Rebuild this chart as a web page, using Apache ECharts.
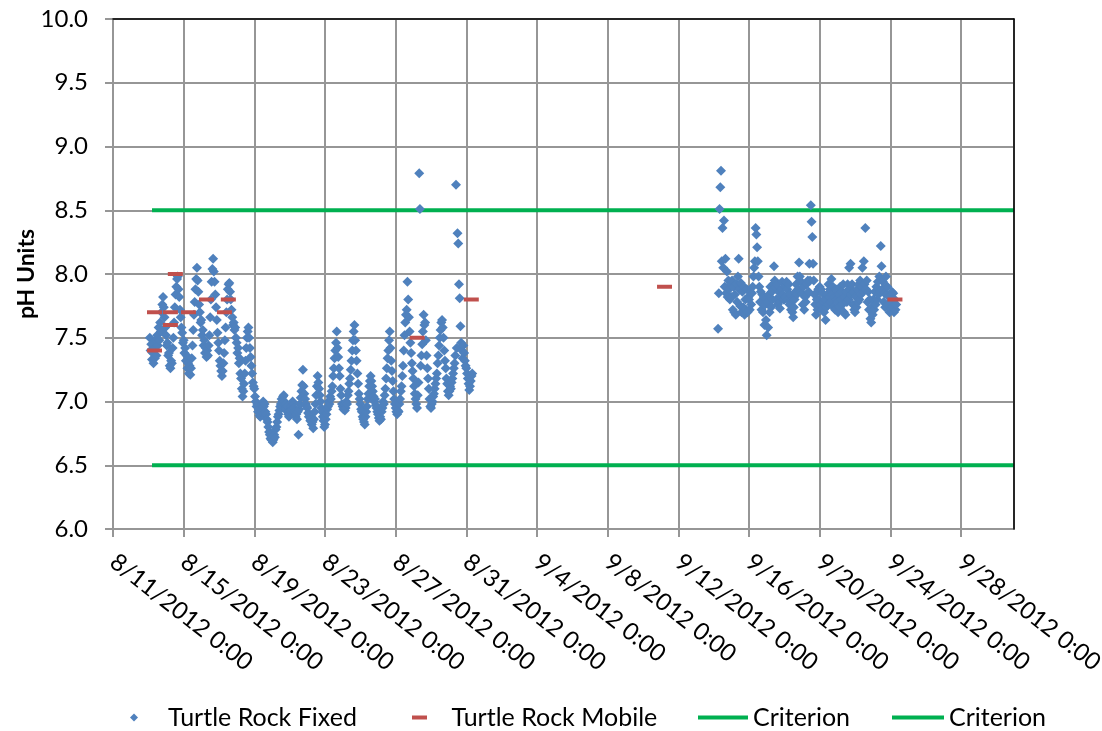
<!DOCTYPE html>
<html><head><meta charset="utf-8">
<script src="https://cdn.jsdelivr.net/npm/echarts@6/dist/echarts.min.js"></script>
<style>html,body{margin:0;padding:0;background:#fff}#c{width:1102px;height:731px}</style>
</head><body><div id="c"></div>
<script>
// ---------- data ----------
const axisStart = '2012-08-11 00:00';
const axisEnd = '2012-10-01 00:00';
const xTickLabels = ['8/11/2012 0:00','8/15/2012 0:00','8/19/2012 0:00','8/23/2012 0:00','8/27/2012 0:00','8/31/2012 0:00','9/4/2012 0:00','9/8/2012 0:00','9/12/2012 0:00','9/16/2012 0:00','9/20/2012 0:00','9/24/2012 0:00','9/28/2012 0:00'];
const yTicks = [6.0, 6.5, 7.0, 7.5, 8.0, 8.5, 9.0, 9.5, 10.0];

// Turtle Rock Fixed: hourly readings
const fixedStepHours = 1;
const fixedStartA = '2012-08-13 02:00';
const fixedA = [
  7.50,7.40,7.45,7.33,7.38,7.30,7.42,7.34,7.48,7.36,7.52,7.44,7.58,7.48,7.62,7.55,7.70,7.76,7.82,7.74,7.66,7.58,
  7.52,7.44,7.46,7.36,7.38,7.28,7.26,7.32,7.30,7.42,7.50,7.62,7.74,7.84,7.90,7.96,7.98,7.88,7.82,7.72,7.66,7.58,7.54,7.46,
  7.48,7.38,7.42,7.32,7.36,7.26,7.30,7.22,7.28,7.21,7.26,7.34,7.44,7.56,7.68,7.78,7.88,7.96,8.05,7.95,7.86,7.76,7.70,7.62,
  7.64,7.52,7.56,7.44,7.48,7.38,7.42,7.35,7.40,7.36,7.44,7.52,7.66,7.80,7.94,8.04,8.12,8.02,7.94,7.84,7.74,7.64,7.54,7.46,
  7.40,7.32,7.28,7.24,7.20,7.24,7.30,7.38,7.48,7.58,7.70,7.80,7.88,7.92,7.93,7.86,7.80,7.72,7.66,7.60,7.62,7.56,7.58,7.50,
  7.46,7.38,7.42,7.30,7.34,7.22,7.18,7.10,7.04,7.08,7.14,7.22,7.32,7.42,7.50,7.55,7.58,7.50,7.42,7.35,7.28,7.22,7.15,7.12,
  7.10,7.04,7.00,6.96,6.98,6.92,6.94,6.89,6.88,6.92,6.96,6.98,7.00,6.96,6.98,6.92,6.90,6.86,6.84,6.80,6.76,6.74,6.71,6.70,
  6.72,6.68,6.70,6.74,6.72,6.78,6.80,6.84,6.88,6.90,6.93,6.96,6.98,7.02,7.00,7.04,7.05,7.00,6.98,6.94,6.96,6.92,6.90,6.88,
  6.90,6.93,6.96,6.94,7.00,6.98,6.95,6.92,6.88,6.90,6.86,6.92,6.74,6.94,6.98,7.03,7.08,7.13,7.25,7.12,7.06,7.02,6.98,6.96,
  6.95,6.91,6.88,6.90,6.85,6.86,6.82,6.84,6.79,6.86,6.92,6.98,7.05,7.12,7.20,7.15,7.10,7.05,7.00,6.95,6.92,6.88,6.85,6.80,
  6.82,6.86,6.90,6.94,6.96,7.00,6.98,7.04,7.02,7.08,7.12,7.20,7.26,7.34,7.40,7.46,7.55,7.42,7.35,7.26,7.20,7.10,7.05,6.98,
  6.96,6.94,6.98,6.93,6.95,7.00,6.98,7.05,7.08,7.14,7.18,7.25,7.32,7.40,7.48,7.55,7.60,7.48,7.40,7.32,7.22,7.14,7.06,7.02,
  6.98,6.94,6.92,6.88,6.86,6.84,6.82,6.88,6.92,6.96,7.02,7.06,7.12,7.16,7.20,7.16,7.12,7.08,7.04,7.00,7.02,6.97,6.95,6.92,
  6.90,6.87,6.85,6.88,6.86,6.92,6.95,7.00,6.98,7.05,7.10,7.18,7.26,7.34,7.40,7.48,7.55,7.42,7.32,7.24,7.16,7.08,7.02,6.98,
  6.95,6.92,6.90,6.93,6.92,6.98,7.02,7.08,7.12,7.20,7.28,7.40,7.52,7.62,7.68,7.72,7.94,7.80,7.66,7.55,7.46,7.38,7.30,7.24,
  7.18,7.12,7.06,7.02,6.98,6.95,7.05,7.15,8.79,8.51,7.28,7.36,7.45,7.55,7.68,7.60,7.62,7.48,7.36,7.26,7.18,7.10,7.02,6.96,
  6.95,6.98,7.00,7.04,7.06,7.10,7.14,7.18,7.22,7.30,7.36,7.44,7.50,7.56,7.62,7.64,7.58,7.50,7.40,7.32,7.26,7.18,7.14,7.08,
  7.05,7.08,7.12,7.10,7.15,7.18,7.22,7.26,7.30,7.36,8.70,7.42,8.32,8.24,7.92,7.81,7.59,7.46,7.40,7.34,7.44,7.38,7.32,7.28,
  7.26,7.22,7.18,7.14,7.09,7.12,7.16,7.20,7.22
];
const fixedStartB = '2012-09-14 06:00';
const fixedB = [
  7.57,7.85,8.51,8.68,8.81,8.10,8.36,8.05,8.42,7.90,8.12,7.85,8.02,7.82,7.95,7.88,7.80,7.92,
  7.82,7.95,7.72,7.90,7.70,7.84,7.68,7.92,7.78,7.98,8.12,7.88,7.75,7.93,7.70,7.86,7.74,7.90,7.68,7.80,7.72,7.88,7.70,7.82,
  7.80,7.72,7.86,7.76,7.85,7.90,7.98,8.05,8.10,8.36,8.31,8.21,8.10,7.98,7.90,7.78,7.86,7.72,7.84,7.70,7.82,7.60,7.76,7.64,
  7.52,7.78,7.58,7.84,7.70,7.90,7.74,7.86,7.80,7.92,8.06,7.95,7.90,7.80,7.92,7.76,7.86,7.78,7.73,7.82,7.88,7.94,7.84,7.80,
  7.80,7.90,7.82,7.94,7.88,7.80,7.92,7.76,7.84,7.72,7.80,7.70,7.66,7.74,7.80,7.86,7.92,7.84,7.98,7.88,8.09,7.98,7.86,7.94,
  7.85,7.76,7.90,7.72,7.82,7.78,7.92,7.84,7.95,7.86,8.08,7.95,8.54,8.41,8.29,8.08,7.95,7.84,7.76,7.68,7.80,7.72,7.88,7.80,
  7.90,7.76,7.88,7.72,7.85,7.78,7.70,7.80,7.64,7.74,7.84,7.76,7.92,7.82,7.88,7.78,7.96,7.84,7.90,7.74,7.82,7.72,7.88,7.80,
  7.78,7.70,7.84,7.74,7.90,7.80,7.86,7.76,7.92,7.70,7.82,7.68,7.86,7.78,7.92,7.80,8.05,7.88,8.08,7.84,7.92,7.76,7.86,7.72,
  7.70,7.82,7.74,7.88,7.78,7.92,7.80,7.95,7.84,7.90,8.05,7.86,8.10,7.92,8.36,7.88,7.95,7.78,7.86,7.72,7.80,7.65,7.62,7.74,
  7.68,7.80,7.72,7.86,7.76,7.90,7.80,7.94,7.84,7.98,7.86,8.22,8.06,7.88,7.94,7.78,7.85,7.74,7.98,7.84,7.90,7.76,7.82,7.70,
  7.78,7.72,7.86,7.74,7.85,7.70,7.80,7.72,7.76
];

// Turtle Rock Mobile
const mobileDates = ['2012-08-13 08:24','2012-08-13 08:24','2012-08-14 06:00','2012-08-14 06:00','2012-08-14 12:40','2012-08-15 06:30','2012-08-16 07:00','2012-08-17 07:25','2012-08-17 12:40','2012-08-28 05:15','2012-08-31 06:45','2012-09-11 05:15','2012-09-24 06:15'];
const mobileValues = [7.4, 7.7, 7.7, 7.6, 8.0, 7.7, 7.8, 7.7, 7.8, 7.5, 7.8, 7.9, 7.8];

// Criterion lines
const criterionDates = ['2012-08-13 05:00', '2012-10-01 00:00'];
const criterionHigh = [8.5, 8.5];
const criterionLow = [6.5, 6.5];

// ---------- helpers ----------
function utc(s) {
  const [d, t] = s.split(' ');
  const [Y, M, D] = d.split('-').map(Number);
  const [h, m] = t.split(':').map(Number);
  return Date.UTC(Y, M - 1, D, h, m);
}
const base = utc(axisStart);
const DAY = 86400000;
function toDay(s) { return (utc(s) - base) / DAY; }
function seriesFromStart(start, vals) {
  const s0 = toDay(start);
  return vals.map((v, i) => [s0 + i * fixedStepHours / 24, v]);
}
const fixedData = seriesFromStart(fixedStartA, fixedA).concat(seriesFromStart(fixedStartB, fixedB));
const mobileData = mobileDates.map((d, i) => [toDay(d), mobileValues[i]]);
const critHighData = criterionDates.map((d, i) => [toDay(d), criterionHigh[i]]);
const critLowData = criterionDates.map((d, i) => [toDay(d), criterionLow[i]]);
const xMax = toDay(axisEnd);
const yMin = yTicks[0], yMax = yTicks[yTicks.length - 1];

const FONT = 'Lato';
const GRIDC = '#969696';
const chart = echarts.init(document.getElementById('c'), null, {renderer: 'canvas'});
const legendText = {fontFamily: FONT, fontSize: 25, color: '#000'};
const frameAxis = {
  axisLine: {show: true, onZero: false, lineStyle: {color: '#000', width: 1.5}},
  axisTick: {show: false}, axisLabel: {show: false}, splitLine: {show: false}
};
chart.setOption({
  animation: false,
  backgroundColor: '#fff',
  grid: {left: 113, top: 19, width: 901, height: 510, containLabel: false, outerBoundsMode: 'none', show: false},
  xAxis: [{
    type: 'value', min: 0, max: xMax, interval: 4,
    axisLine: {show: true, onZero: false, lineStyle: {color: GRIDC, width: 2}},
    axisTick: {show: true, length: 8, lineStyle: {color: GRIDC, width: 2}},
    splitLine: {show: true, lineStyle: {color: GRIDC, width: 2}},
    axisLabel: {
      rotate: -38, margin: 30, fontFamily: FONT, fontSize: 24, color: '#000',
      showMaxLabel: false,
      formatter: v => (Math.abs(v % 4) < 1e-9 ? (xTickLabels[Math.round(v / 4)] || '') : '')
    }
  }, Object.assign({type: 'value', min: 0, max: xMax, position: 'top', z: 5}, frameAxis)],
  yAxis: [{
    type: 'value', min: yMin, max: yMax, interval: 0.5,
    name: 'pH Units', nameLocation: 'middle', nameGap: 75, nameMoveOverlap: false,
    nameTextStyle: {fontFamily: FONT, fontSize: 23, fontWeight: 'bold', color: '#000'},
    axisLine: {show: true, onZero: false, lineStyle: {color: GRIDC, width: 2}},
    axisTick: {show: true, length: 8, lineStyle: {color: GRIDC, width: 2}},
    splitLine: {show: true, lineStyle: {color: GRIDC, width: 2}},
    axisLabel: {margin: 25, fontFamily: FONT, fontSize: 24, color: '#000', formatter: v => v.toFixed(1)}
  }, Object.assign({type: 'value', min: yMin, max: yMax, position: 'right', z: 5}, frameAxis)],
  legend: [
    {left: 130, top: 705, padding: 0, itemWidth: 58, itemHeight: 8, textStyle: legendText,
     data: [{name: 'Turtle Rock Fixed', icon: 'path://M5,0L10,5L5,10L0,5Z'}]},
    {left: 412, top: 705, padding: 0, itemWidth: 54, itemHeight: 4, textStyle: legendText,
     data: [{name: 'Turtle Rock Mobile', icon: 'path://M0,0H15V4H0Z'}]},
    {left: 698, top: 705, padding: 0, itemWidth: 50, itemHeight: 4, textStyle: legendText,
     data: [{name: 'Criterion', icon: 'path://M0,0H50V4H0Z'}]},
    {left: 892, top: 705, padding: 0, itemWidth: 52, itemHeight: 4, textStyle: legendText,
     data: [{name: 'Criterion ', icon: 'path://M0,0H52V4H0Z'}]}
  ],
  series: [
    {name: 'Criterion', type: 'line', data: critHighData, symbol: 'none', z: 2,
     lineStyle: {color: '#00B050', width: 4, cap: 'butt'}, itemStyle: {color: '#00B050'}},
    {name: 'Criterion ', type: 'line', data: critLowData, symbol: 'none', z: 2,
     lineStyle: {color: '#00B050', width: 4, cap: 'butt'}, itemStyle: {color: '#00B050'}},
    {name: 'Turtle Rock Fixed', type: 'scatter', data: fixedData, symbol: 'diamond', symbolSize: 10, z: 3,
     itemStyle: {color: '#4F81BD', opacity: 1}},
    {name: 'Turtle Rock Mobile', type: 'scatter', data: mobileData, symbol: 'rect', symbolSize: [15, 4], z: 4,
     itemStyle: {color: '#C0504D', opacity: 1}}
  ]
});
</script>
</body></html>
